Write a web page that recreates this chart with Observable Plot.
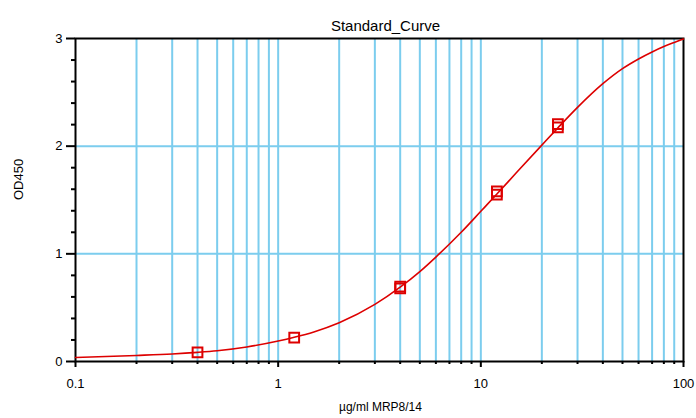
<!DOCTYPE html>
<html>
<head>
<meta charset="utf-8">
<script src="https://cdn.jsdelivr.net/npm/d3@7"></script>
<script src="https://cdn.jsdelivr.net/npm/@observablehq/plot@0.6"></script>
<style>
  html, body { margin: 0; padding: 0; background: #ffffff; }
  #chart svg { display: block; font-family: "Liberation Sans", Arial, sans-serif; }
</style>
</head>
<body>
<div id="chart"></div>
<script>
// ---- data ----
const title = "Standard_Curve";
const xLabel = "µg/ml MRP8/14";
const yLabel = "OD450";

// measured standards (duplicates)
const stdConc = [0.4, 1.2, 4, 4, 12, 12, 24, 24];
const stdOD   = [0.084, 0.222, 0.68, 0.695, 1.55, 1.58, 2.175, 2.205];

// fitted curve
const curveConc = [0.1, 0.2, 0.3, 0.4, 0.5, 0.7, 1, 1.2, 1.5, 2, 3, 4, 5, 6, 8, 10, 12, 15, 20, 24, 30, 40, 50, 60, 70, 80, 90, 100];
const curveOD   = [0.037, 0.056, 0.07, 0.085, 0.10, 0.135, 0.19, 0.225, 0.275, 0.36, 0.53, 0.69, 0.835, 0.97, 1.20, 1.395, 1.555, 1.755, 2.01, 2.17, 2.36, 2.58, 2.72, 2.81, 2.875, 2.925, 2.963, 2.995];

// axes / grid
const xMajorTicks = [0.1, 1, 10, 100];
const xMinorTicks = [0.2,0.3,0.4,0.5,0.6,0.7,0.8,0.9, 2,3,4,5,6,7,8,9, 20,30,40,50,60,70,80,90];
const xGrid = [0.2,0.3,0.4,0.5,0.6,0.7,0.8,0.9,1, 2,3,4,5,6,7,8,9,10, 20,30,40,50,60,70,80,90];
const yMajorTicks = [0, 1, 2, 3];
const yMinorTicks = [0.2,0.4,0.6,0.8, 1.2,1.4,1.6,1.8, 2.2,2.4,2.6,2.8];
const yGrid = [1, 2];

// ---- build ----
const standards = stdConc.map((c, i) => ({conc: c, od: stdOD[i]}));
const curve = curveConc.map((c, i) => ({conc: c, od: curveOD[i]}));

const gridColor = "#7ccdee";
const red = "#dd0000";
const font = "Liberation Sans, Arial, sans-serif";

const chart = Plot.plot({
  width: 696,
  height: 418,
  marginLeft: 75,
  marginRight: 13,
  marginTop: 38,
  marginBottom: 57,
  style: {fontFamily: font, fontSize: "13px", color: "#000", background: "#fff"},
  x: {type: "log", domain: [0.1, 100]},
  y: {domain: [0, 3]},
  marks: [
    Plot.ruleX(xGrid, {stroke: gridColor, strokeWidth: 2}),
    Plot.ruleY(yGrid, {stroke: gridColor, strokeWidth: 2}),
    Plot.frame({stroke: "#000", strokeWidth: 2}),
    Plot.line(curve, {x: "conc", y: "od", stroke: red, strokeWidth: 1.6, curve: "monotone-x"}),
    Plot.dot(standards, {x: "conc", y: "od", symbol: "square", r: 5.5, stroke: red, strokeWidth: 2, fill: "none"}),
    Plot.axisX(xMajorTicks, {tickSize: 6, tickPadding: 11, strokeWidth: 2, fontSize: 13, tickFormat: d => String(d), label: null}),
    Plot.axisX(xMinorTicks, {tickSize: 3, strokeWidth: 2, tickFormat: () => "", label: null}),
    Plot.axisY(yMajorTicks, {tickSize: 9, tickPadding: 4, strokeWidth: 2, fontSize: 13, tickFormat: d => String(d), label: null}),
    Plot.axisY(yMinorTicks, {tickSize: 4, strokeWidth: 2, tickFormat: () => "", label: null}),
    Plot.text([title], {frameAnchor: "top", dy: -18, dx: 6, fontSize: 15, text: d => d, fill: "#000", style: "letter-spacing:1px"}),
    Plot.text([xLabel], {frameAnchor: "bottom", dy: 49, dx: 1, fontSize: 12, text: d => d, fill: "#000"}),
    Plot.text([yLabel], {frameAnchor: "left", dx: -57, rotate: -90, fontSize: 13, text: d => d, fill: "#000"})
  ]
});
document.getElementById("chart").appendChild(chart);
</script>
</body>
</html>
